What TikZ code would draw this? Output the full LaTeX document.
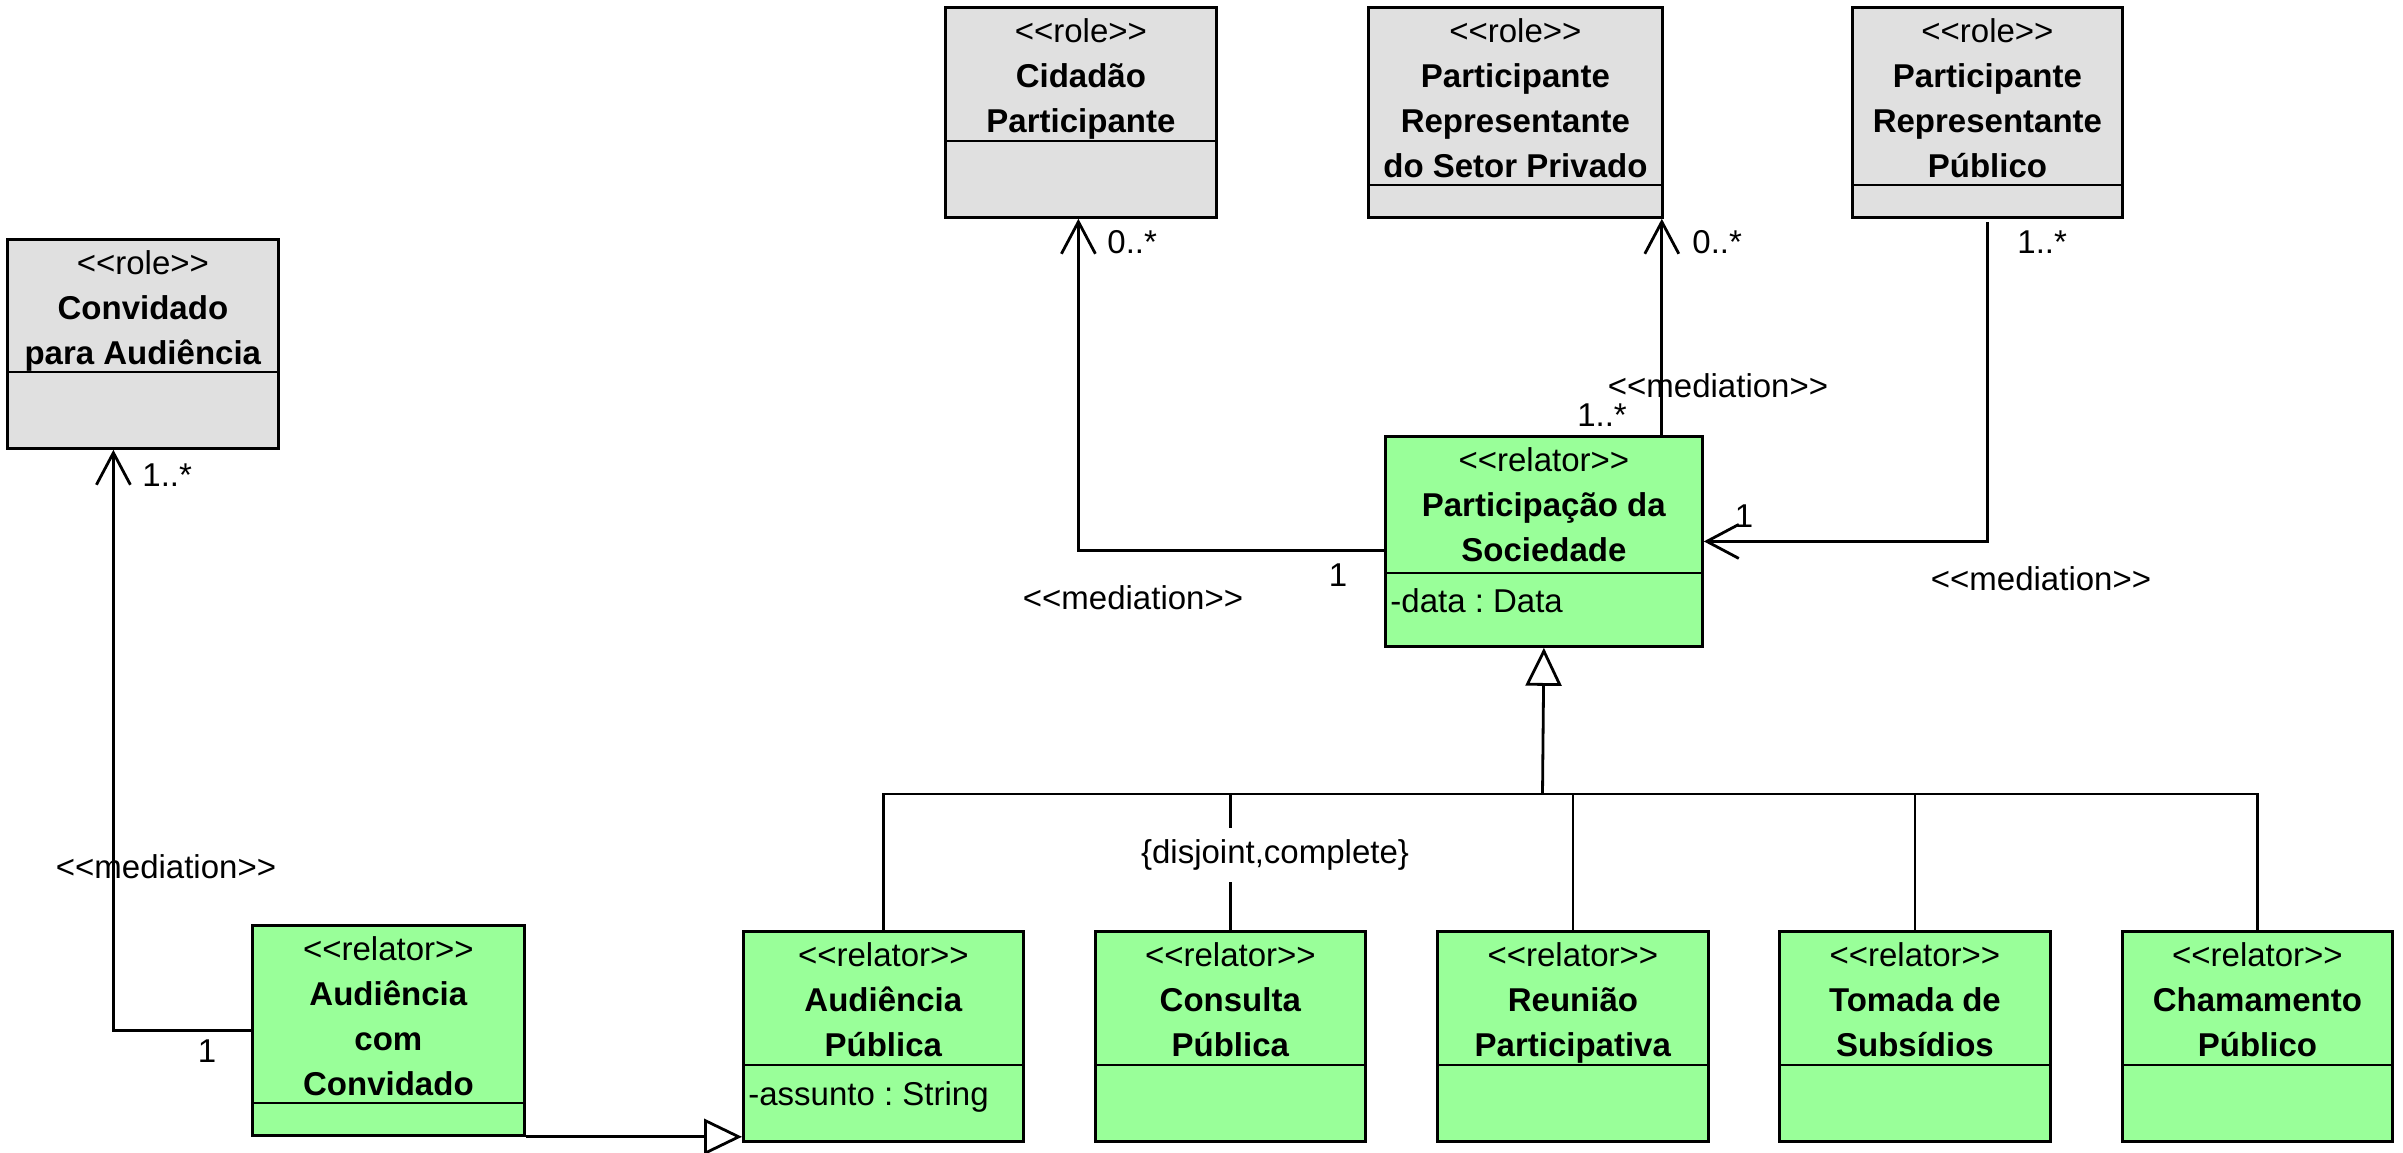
\documentclass[tikz,border=0pt]{standalone}
\usepackage{fontspec}
\setmainfont{Liberation Sans}
\usetikzlibrary{arrows.meta}
\definecolor{rolegray}{HTML}{E0E0E0}
\definecolor{relgreen}{HTML}{99FF99}
\newcommand\stereo[1]{<{}<#1>{}>}
\frenchspacing
\tikzset{
  umlbox/.style={draw=black, line width=1.4pt, inner sep=0pt, anchor=north west},
  rolebox/.style={umlbox, fill=rolegray},
  relbox/.style={umlbox, fill=relgreen},
  titletext/.style={anchor=north, align=center, inner sep=0pt, font=\fontsize{16.5}{22.5}\selectfont},
  attrtext/.style={anchor=west, inner sep=0pt, font=\fontsize{16.5}{19}\selectfont},
  lbl/.style={inner sep=0pt, font=\fontsize{16.5}{19}\selectfont},
  conn/.style={line width=1.4pt},
  medarrow/.style={conn, -{Straight Barb[length=16pt,width=17pt]}},
  genarrow/.style={conn, -{Triangle[open,length=19pt,width=18pt,fill=white]}},
}
% name, x1, y1, x2, y2, divider y, style, text
\newcommand\umlclass[8]{%
  \node[#7, minimum width={(#4-#2)/2}, minimum height={(#5-#3)/2}] (#1) at (#2,#3) {};
  \draw[line width=1.4pt] (#2,#6) -- (#4,#6);
  \node[titletext] (#1-t) at ([yshift=-6pt]#1.north) {#8};
}
\begin{document}
\begin{tikzpicture}[x=0.5pt,y=-0.5pt]
\useasboundingbox (0,0) rectangle (2403,1152);
\fill[white] (0,0) rectangle (2403,1152);

% role classes
\umlclass{conv}{6}{238}{277}{447}{372}{rolebox}{\stereo{role}\\\textbf{Convidado}\\\textbf{para Audiência}}
\umlclass{cid}{944}{6}{1215}{216}{141}{rolebox}{\stereo{role}\\\textbf{Cidadão}\\\textbf{Participante}}
\umlclass{priv}{1367}{6}{1661}{216}{185}{rolebox}{\stereo{role}\\\textbf{Participante}\\\textbf{Representante}\\\textbf{do Setor Privado}}
\umlclass{pub}{1851}{6}{2121}{216}{185}{rolebox}{\stereo{role}\\\textbf{Participante}\\\textbf{Representante}\\\textbf{Público}}

% relators
\umlclass{part}{1384}{435}{1701}{645}{573}{relbox}{\stereo{relator}\\\textbf{Participação da}\\\textbf{Sociedade}}
\node[attrtext] (part-a) at (1390,601) {-data : Data};

\umlclass{acc}{251}{924}{523}{1134}{1103}{relbox}{\stereo{relator}\\\textbf{Audiência}\\\textbf{com}\\\textbf{Convidado}}

\umlclass{ap}{742}{930}{1022}{1140}{1065}{relbox}{\stereo{relator}\\\textbf{Audiência}\\\textbf{Pública}}
\node[attrtext] (ap-a) at (748,1097) {-assunto : String};
\umlclass{cp}{1094}{930}{1364}{1140}{1065}{relbox}{\stereo{relator}\\\textbf{Consulta}\\\textbf{Pública}}
\umlclass{rp}{1436}{930}{1707}{1140}{1065}{relbox}{\stereo{relator}\\\textbf{Reunião}\\\textbf{Participativa}}
\umlclass{ts}{1778}{930}{2049}{1140}{1065}{relbox}{\stereo{relator}\\\textbf{Tomada de}\\\textbf{Subsídios}}
\umlclass{ch}{2121}{930}{2391}{1140}{1065}{relbox}{\stereo{relator}\\\textbf{Chamamento}\\\textbf{Público}}

% mediation: Audiencia com Convidado -> Convidado
\draw[medarrow] (acc.west) -| ([xshift=-14.75pt]conv.south);
\node[lbl, anchor=west] (l1) at (142,475) {1..*};
\node[lbl] (l2) at (166,867) {\stereo{mediation}};
\node[lbl] (l3) at (207,1051) {1};

% mediation: Participacao -> Cidadao
\draw[medarrow] ([yshift=-4.5pt]part.west) -| ([xshift=-1.25pt]cid.south);
\node[lbl, anchor=west] (l4) at (1107,242) {0..*};
\node[lbl] (l5) at (1133,598) {\stereo{mediation}};
\node[lbl] (l6) at (1338,575) {1};

% mediation: Participacao -> Setor Privado
\draw[medarrow] ([xshift=-1pt]part.north -| priv.south east) -- ([xshift=-1pt]priv.south east);
\node[lbl, anchor=west] (l7) at (1692,242) {0..*};
\node[lbl] (l8) at (1718,386) {\stereo{mediation}};
\node[lbl] (l9) at (1602,415) {1..*};

% mediation: Publico -> Participacao
\draw[medarrow] ([yshift=-1.5pt]pub.south) |- (part.east);
\node[lbl, anchor=west] (l10) at (2017,242) {1..*};
\node[lbl] (l11) at (1744,516) {1};
\node[lbl] (l12) at (2041,579) {\stereo{mediation}};

% generalization set
\coordinate (gj) at (1542.5,794);
\draw[genarrow] (gj) -- (part.south);
\draw[conn] (ap.north) -- (ap.north |- gj) -- (ch.north |- gj) -- (ch.north);
\draw[conn] (cp.north) -- (cp.north |- gj);
\draw[conn] (rp.north) -- (rp.north |- gj);
\draw[conn] (ts.north) -- (ts.north |- gj);
\node[lbl, fill=white, inner xsep=0pt, inner ysep=6pt] (gs) at (1275,855) {\{disjoint,complete\}};

% generalization: Audiencia com Convidado -> Audiencia Publica
\draw[genarrow] (acc.south east) -- (acc.south east -| ap.west);
\end{tikzpicture}
\end{document}
